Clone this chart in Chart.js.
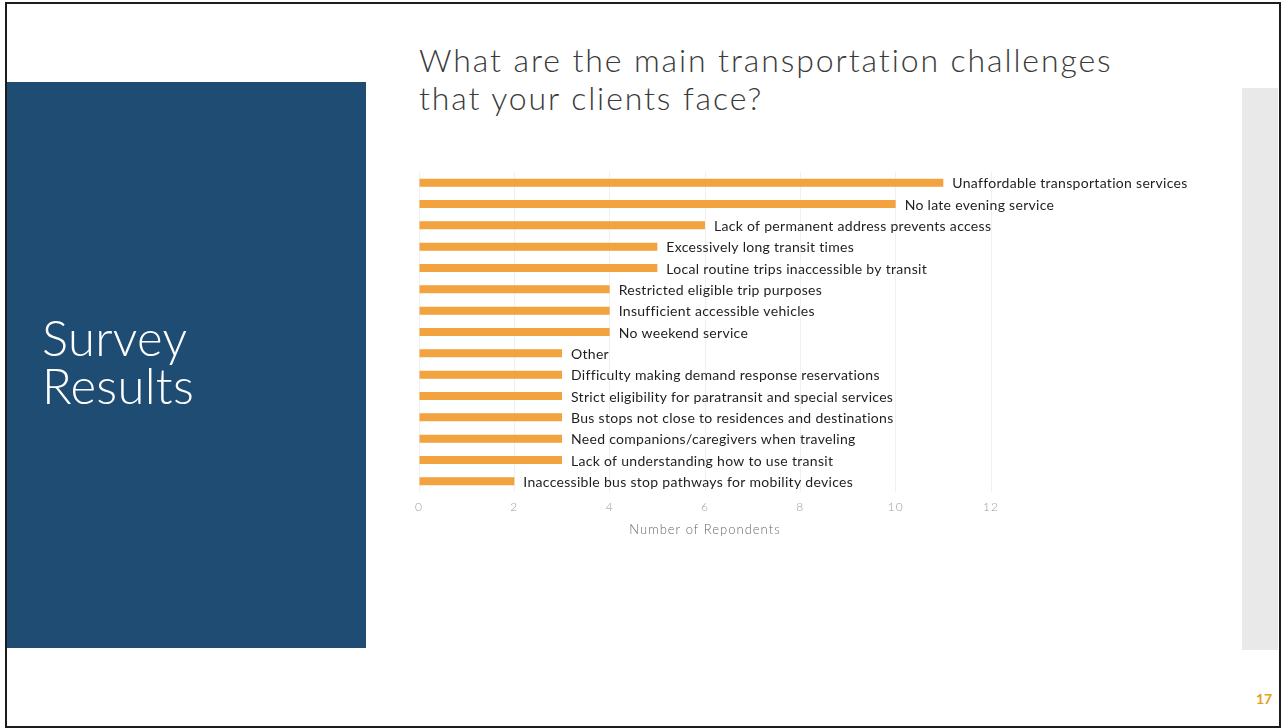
<!DOCTYPE html>
<html>
<head>
<meta charset="utf-8">
<title>Survey Results</title>
<script src="https://cdn.jsdelivr.net/npm/chart.js@4.4.1/dist/chart.umd.min.js"></script>
<style>
  html, body { margin: 0; padding: 0; background: #fff; }
  body { width: 1282px; height: 728px; position: relative; overflow: hidden; font-family: Lato, "Open Sans", sans-serif; }
  .frame { position: absolute; left: 5px; top: 2px; width: 1272px; height: 722px; border: 2px solid #1c1c1c; }
  .side { position: absolute; left: 7px; top: 82px; width: 359px; height: 566px; background: #1e4c72; }
  .side h2 { position: absolute; left: 35px; top: 231px; margin: 0; color: #fff; font-weight: 300; font-size: 49px; line-height: 48px; letter-spacing: 0.3px; }
  .strip { position: absolute; left: 1242px; top: 88px; width: 36px; height: 562px; background: #e9e9e9; }
  h1 { position: absolute; left: 419px; top: 41px; margin: 0; font-weight: 300; font-size: 32px; line-height: 38px; color: #3a3a3a; letter-spacing: 1.9px; }
  .page { position: absolute; left: 1256px; top: 690px; font-size: 14px; font-weight: 700; color: #e3a21a; }
  #wrap { position: absolute; left: 400px; top: 150px; width: 860px; height: 400px; }
</style>
</head>
<body>
<div class="frame"></div>
<div class="side"><h2>Survey<br>Results</h2></div>
<div class="strip"></div>
<h1>What are the main transportation challenges<br>that your clients face?</h1>
<div class="page">17</div>
<div id="wrap"><canvas id="challengeChart"></canvas></div>

<script>
// Survey answers, top to bottom
const challenges = [
  "Unaffordable transportation services",
  "No late evening service",
  "Lack of permanent address prevents access",
  "Excessively long transit times",
  "Local routine trips inaccessible by transit",
  "Restricted eligible trip purposes",
  "Insufficient accessible vehicles",
  "No weekend service",
  "Other",
  "Difficulty making demand response reservations",
  "Strict eligibility for paratransit and special services",
  "Bus stops not close to residences and destinations",
  "Need companions/caregivers when traveling",
  "Lack of understanding how to use transit",
  "Inaccessible bus stop pathways for mobility devices"
];
const respondents = [11, 10, 6, 5, 5, 4, 4, 4, 3, 3, 3, 3, 3, 3, 2];
const xTicks = [0, 2, 4, 6, 8, 10, 12];

// Slightly wider letter spacing for all canvas text
const spacing = {
  id: "spacing",
  beforeLayout(chart) { chart.ctx.letterSpacing = "1px"; },
  beforeDraw(chart) { chart.ctx.letterSpacing = "1px"; }
};

// Write each category name just past the end of its bar
const barLabels = {
  id: "barLabels",
  afterDatasetsDraw(chart) {
    const ctx = chart.ctx;
    const meta = chart.getDatasetMeta(0);
    ctx.save();
    ctx.letterSpacing = "0.3px";
    ctx.font = "14px Lato, 'Open Sans', sans-serif";
    ctx.fillStyle = "#1e1e1e";
    ctx.textAlign = "left";
    ctx.textBaseline = "middle";
    meta.data.forEach((bar, i) => {
      ctx.fillText(challenges[i], bar.x + 9, bar.y + 1);
    });
    ctx.restore();
  }
};

new Chart(document.getElementById("challengeChart"), {
  type: "bar",
  data: {
    labels: challenges,
    datasets: [{
      data: respondents,
      backgroundColor: "#f2a23e",
      barPercentage: 0.75,
      categoryPercentage: 0.5
    }]
  },
  options: {
    indexAxis: "y",
    responsive: true,
    maintainAspectRatio: false,
    animation: false,
    layout: { padding: { left: 19, right: 269, top: 22, bottom: 12 } },
    plugins: { legend: { display: false }, tooltip: { enabled: false } },
    scales: {
      y: { display: false },
      x: {
        min: 0,
        max: 12,
        afterBuildTicks(axis) { axis.ticks = xTicks.map(v => ({ value: v })); },
        grid: { color: "rgba(200,200,200,0.28)", borderDash: [2, 3], drawTicks: false },
        border: { display: false },
        ticks: { padding: 8, color: "#9c9c9c", font: { family: "Lato", size: 12, weight: 300 } },
        title: { display: true, text: "Number of Repondents", color: "#6a6a6a", padding: 0, font: { family: "Lato", size: 13, weight: 300 } }
      }
    }
  },
  plugins: [spacing, barLabels]
});
</script>
</body>
</html>
